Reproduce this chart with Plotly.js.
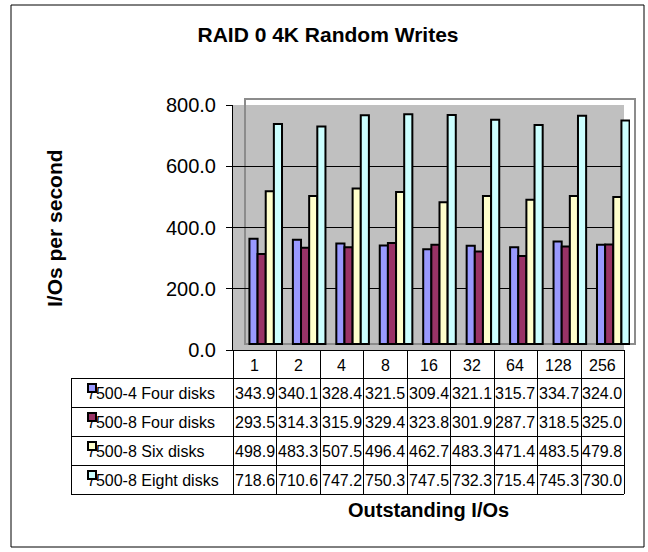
<!DOCTYPE html>
<html>
<head>
<meta charset="utf-8">
<script src="https://cdn.plot.ly/plotly-3.0.1.min.js"></script>
<style>
  html, body { margin: 0; padding: 0; background: #ffffff; }
  #chart { width: 648px; height: 552px; }
</style>
</head>
<body>
<div id="chart"></div>
<script>
// ---------- data ----------
const categories = ['1', '2', '4', '8', '16', '32', '64', '128', '256'];
const seriesNames = ['7500-4 Four disks', '7500-8 Four disks', '7500-8 Six disks', '7500-8 Eight disks'];
const fourDisks4 = [343.9, 340.1, 328.4, 321.5, 309.4, 321.1, 315.7, 334.7, 324.0];
const fourDisks8 = [293.5, 314.3, 315.9, 329.4, 323.8, 301.9, 287.7, 318.5, 325.0];
const sixDisks8 = [498.9, 483.3, 507.5, 496.4, 462.7, 483.3, 471.4, 483.5, 479.8];
const eightDisks8 = [718.6, 710.6, 747.2, 750.3, 747.5, 732.3, 715.4, 745.3, 730.0];
const yTickValues = [0, 200, 400, 600, 800];
const chartTitle = 'RAID 0 4K Random Writes';
const yTitle = 'I/Os per second';
const xTitle = 'Outstanding I/Os';

// ---------- styling ----------
const seriesValues = [fourDisks4, fourDisks8, sixDisks8, eightDisks8];
const colors = ['#9999FF', '#993366', '#FFFFCC', '#CCFFFF'];
const FONT = 'Liberation Sans, Arial, Helvetica, sans-serif';

const W = 648, H = 552;
const L = 233, R = 630, T = 105, B = 350;   // plot area in pixels
const X = px => (px - L) / (R - L);
const Y = py => (B - py) / (B - T);

const wallRight = 624;
const colW = (wallRight - L) / categories.length;
const tableLeft = 71;
const headerTop = 350, headerBottom = 378, rowH = 29;
const tableBottom = headerBottom + rowH * seriesNames.length;

// bars drawn in a second, slightly shifted subplot (pseudo-3D offset)
const barShiftX = 6;       // px shift of subplot
const barCenterShift = 11; // px shift of group centers vs. table columns
const r0 = -0.5 - (barCenterShift - barShiftX) / colW;
const idx = categories.map((c, i) => i);
const yBaseShift = 6 / ((B - T) / 800);

const traces = seriesNames.map((name, k) => ({
  type: 'bar',
  name: name,
  x: idx,
  y: seriesValues[k],
  xaxis: 'x2',
  yaxis: 'y2',
  marker: { color: colors[k], line: { color: '#000000', width: 2 } },
  showlegend: false
}));
traces.unshift({ type: 'scatter', x: [], y: [], xaxis: 'x', yaxis: 'y', showlegend: false });

// ---------- shapes ----------
const shapes = [];
const line = (x0, y0, x1, y1) => shapes.push({
  type: 'line', xref: 'paper', yref: 'paper',
  x0: X(x0), y0: Y(y0), x1: X(x1), y1: Y(y1),
  line: { color: '#000000', width: 1 }, layer: 'above'
});
// outer chart border
shapes.push({ type: 'rect', xref: 'paper', yref: 'paper', x0: X(11), y0: Y(547), x1: X(644), y1: Y(5),
  line: { color: '#000000', width: 1 }, fillcolor: 'rgba(0,0,0,0)', layer: 'below' });
// back wall
shapes.push({ type: 'rect', xref: 'paper', yref: 'paper', x0: X(L), y0: Y(B), x1: X(wallRight), y1: Y(T),
  line: { width: 0 }, fillcolor: '#C0C0C0', layer: 'below' });
// 3D frame
shapes.push({ type: 'rect', xref: 'paper', yref: 'paper', x0: X(245), y0: Y(344), x1: X(635), y1: Y(99),
  line: { color: '#8C8C8C', width: 2 }, fillcolor: 'rgba(0,0,0,0)', layer: 'below' });
// data table grid
line(L - 6, headerTop + 0.5, wallRight, headerTop + 0.5);
for (let r = 0; r <= seriesNames.length; r++) {
  const y = headerBottom + r * rowH + 0.5;
  line(tableLeft, y, wallRight, y);
}
line(tableLeft + 0.5, headerBottom, tableLeft + 0.5, tableBottom);
for (let i = 0; i <= categories.length; i++) {
  const x = Math.round(L + i * colW) + 0.5;
  line(x, headerTop, x, tableBottom);
}

// ---------- annotations ----------
const ann = [];
const cellFont = { family: FONT, size: 16, color: '#000000' };
categories.forEach((c, i) => ann.push({
  xref: 'x', yref: 'paper', x: i, y: Y((headerTop + headerBottom) / 2 + 1),
  text: c, showarrow: false, font: cellFont, xanchor: 'center', yanchor: 'middle'
}));
seriesNames.forEach((name, r) => {
  const yc = Y(headerBottom + rowH * (r + 0.5) + 1);
  seriesValues[r].forEach((v, i) => ann.push({
    xref: 'x', yref: 'paper', x: i, y: yc, text: v.toFixed(1), showarrow: false,
    font: cellFont, xanchor: 'center', yanchor: 'middle'
  }));
  ann.push({ xref: 'paper', yref: 'paper', x: X(85), y: yc, text: name, showarrow: false,
    font: cellFont, xanchor: 'left', yanchor: 'middle' });
});
seriesNames.forEach((name, r) => ann.push({
  xref: 'paper', yref: 'paper', x: X(92), y: Y(headerBottom + rowH * r + 9.5),
  text: ' ', showarrow: false, width: 6, height: 6, bgcolor: colors[r],
  bordercolor: '#000000', borderwidth: 2, borderpad: 0, xanchor: 'center', yanchor: 'middle'
}));
ann.push({ xref: 'paper', yref: 'paper', x: X(54), y: Y(228), text: yTitle, textangle: -90,
  showarrow: false, font: { family: FONT, size: 21, color: '#000000', weight: 'bold' },
  xanchor: 'center', yanchor: 'middle' });
ann.push({ xref: 'paper', yref: 'paper', x: X(428), y: Y(510), text: xTitle,
  showarrow: false, font: { family: FONT, size: 20, color: '#000000', weight: 'bold' },
  xanchor: 'center', yanchor: 'middle' });

const layout = {
  width: W, height: H,
  margin: { l: L, r: W - R, t: T, b: H - B, pad: 0 },
  paper_bgcolor: '#FFFFFF',
  plot_bgcolor: 'rgba(0,0,0,0)',
  font: { family: FONT, color: '#000000' },
  title: { text: chartTitle, xref: 'container', yref: 'container', x: 328 / W, y: 1 - 35 / H,
    xanchor: 'center', yanchor: 'middle',
    font: { family: FONT, size: 21, color: '#000000', weight: 'bold' } },
  showlegend: false,
  barmode: 'group', bargap: 0.25, bargroupgap: 0,
  xaxis: { domain: [0, (wallRight - L) / (R - L)], range: [-0.5, 8.5], anchor: 'y',
    showgrid: false, zeroline: false, showline: false, showticklabels: false, ticks: '', fixedrange: true },
  yaxis: { domain: [0, 1], range: [0, 800], anchor: 'x', tickvals: yTickValues,
    ticktext: yTickValues.map(v => v.toFixed(1)), ticks: 'outside', ticklen: 6, tickcolor: '#000000',
    ticklabelstandoff: 6,
    tickfont: { family: FONT, size: 20, color: '#000000' },
    showgrid: true, gridcolor: '#000000', gridwidth: 1, zeroline: false,
    showline: true, linecolor: '#000000', linewidth: 1, fixedrange: true },
  xaxis2: { domain: [barShiftX / (R - L), 1], range: [r0, r0 + categories.length], anchor: 'y2',
    visible: false, fixedrange: true },
  yaxis2: { domain: [0, 1], range: [-yBaseShift, 800 - yBaseShift], anchor: 'x2',
    visible: false, fixedrange: true },
  shapes: shapes,
  annotations: ann
};

Plotly.newPlot('chart', traces, layout, { staticPlot: true, displayModeBar: false });
</script>
</body>
</html>
